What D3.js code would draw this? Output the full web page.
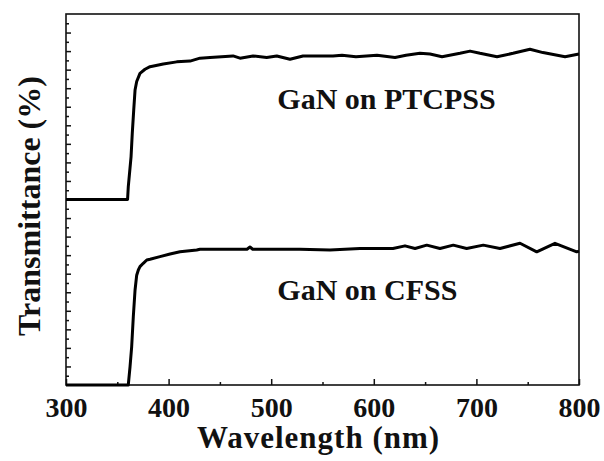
<!DOCTYPE html>
<html>
<head>
<meta charset="utf-8">
<script src="https://cdn.jsdelivr.net/npm/d3@7"></script>
<style>
  body { margin: 0; background: #fff; }
  svg { display: block; }
  text { font-family: "Liberation Serif", "Times New Roman", Times, serif; font-weight: bold; fill: #111; }
</style>
</head>
<body>
<div id="chart"></div>
<script>
// wavelength (nm) and transmittance (arbitrary, 0-100)
var ptcpssWave = [300, 360, 360.7, 363.4, 364.6, 366, 367.3, 368.9, 372.1, 377, 381.9, 394.8, 407.9, 420.9, 430.6, 440.4, 462.8, 469.6, 482.3, 495.6, 505.4, 518.3, 531, 560.2, 569, 582.6, 603.1, 620.7, 631.4, 645, 654.8, 666.5, 684, 693.8, 703.5, 720.1, 735.7, 752.2, 764.9, 786.4, 800];
var ptcpssT    = [50, 50, 53.4, 61.5, 67.9, 74.1, 79.5, 81.8, 84.0, 85.1, 85.8, 86.5, 87.1, 87.3, 88.1, 88.3, 88.7, 88.1, 88.7, 88.3, 88.7, 87.8, 88.7, 88.7, 88.9, 88.5, 88.9, 88.3, 88.9, 89.4, 89.2, 88.5, 89.4, 90.0, 89.4, 88.5, 89.4, 90.5, 89.6, 88.5, 89.2];

var cfssWave = [300, 360.7, 362.4, 364, 365.6, 367.3, 368.9, 370.5, 372.1, 375.3, 378.7, 381.9, 391.6, 401.4, 411.1, 427.4, 430.6, 476.4, 479.3, 482, 528, 557.3, 586.5, 618.7, 630.4, 640.2, 651.6, 664.5, 677.5, 690.5, 706.7, 723, 742.5, 758.8, 776.6, 797.8, 800];
var cfssT    = [0, 0, 4.9, 10.3, 18.4, 25.6, 29.6, 31.0, 31.9, 32.8, 33.7, 33.9, 34.6, 35.3, 35.9, 36.4, 36.6, 36.6, 37.2, 36.6, 36.6, 36.4, 36.8, 36.8, 37.5, 36.8, 37.7, 36.8, 37.7, 36.8, 37.7, 36.8, 38.2, 35.9, 38.2, 35.9, 36.1];

var seriesNames = ["GaN on PTCPSS", "GaN on CFSS"];
var xTickValues = [300, 400, 500, 600, 700, 800];

var W = 604, H = 461;
var margin = { left: 66, right: 25, top: 14, bottom: 76 };
var width = W - margin.left - margin.right;
var height = H - margin.top - margin.bottom;

var svg = d3.select("#chart").append("svg")
    .attr("width", W)
    .attr("height", H);

var g = svg.append("g")
    .attr("transform", "translate(" + margin.left + "," + margin.top + ")");

var x = d3.scaleLinear().domain([300, 800]).range([0, width]);
var y = d3.scaleLinear().domain([0, 100]).range([height, 0]);

// minor + major ticks, pointing inward
var xMinor = d3.axisBottom(x).tickValues(d3.range(350, 800, 100)).tickSize(-3).tickFormat("");
var xMajor = d3.axisBottom(x).tickValues(xTickValues).tickSize(-6).tickPadding(12);
var yMinor = d3.axisLeft(y).tickValues(d3.range(2.5, 100, 5)).tickSize(-3).tickFormat("");
var yMajor = d3.axisLeft(y).tickValues(d3.range(5, 100, 5)).tickSize(-5).tickFormat("");

g.append("g").attr("class", "axis").attr("transform", "translate(0," + height + ")").call(xMinor);
var xa = g.append("g").attr("class", "axis").attr("transform", "translate(0," + height + ")").call(xMajor);
g.append("g").attr("class", "axis").call(yMinor);
g.append("g").attr("class", "axis").call(yMajor);

g.selectAll(".axis .domain").remove();
g.selectAll(".axis line").attr("stroke", "#111").attr("stroke-width", 1.5);
xa.selectAll("text")
    .attr("dy", null)
    .attr("y", 32)
    .attr("fill", "#111")
    .style("font-size", "28px")
    .style("font-family", "'Liberation Serif', 'Times New Roman', serif")
    .style("font-weight", "bold");

// frame
g.append("rect")
    .attr("x", 0).attr("y", 0)
    .attr("width", width).attr("height", height)
    .attr("fill", "none")
    .attr("stroke", "#111")
    .attr("stroke-width", 1.6);

var line = d3.line()
    .x(function (d) { return x(d[0]); })
    .y(function (d) { return y(d[1]); });

var curves = [d3.zip(ptcpssWave, ptcpssT), d3.zip(cfssWave, cfssT)];

g.selectAll(".curve")
    .data(curves).enter()
    .append("path")
    .attr("class", "curve")
    .attr("d", line)
    .attr("fill", "none")
    .attr("stroke", "#000")
    .attr("stroke-width", 3)
    .attr("stroke-linejoin", "round");

// series labels
var labelPos = [[506, 74.4], [506, 23]];
g.selectAll(".lab")
    .data(seriesNames).enter()
    .append("text")
    .attr("class", "lab")
    .attr("x", function (d, i) { return x(labelPos[i][0]); })
    .attr("y", function (d, i) { return y(labelPos[i][1]); })
    .style("font-size", "30px")
    .text(function (d) { return d; });

// axis titles
svg.append("text")
    .attr("x", margin.left + width / 2 - 4)
    .attr("y", 448)
    .attr("text-anchor", "middle")
    .style("font-size", "31px")
    .style("letter-spacing", "1px")
    .text("Wavelength (nm)");

svg.append("text")
    .attr("transform", "translate(40," + 206 + ") rotate(-90)")
    .attr("text-anchor", "middle")
    .style("font-size", "32px")
    .text("Transmittance (%)");
</script>
</body>
</html>
